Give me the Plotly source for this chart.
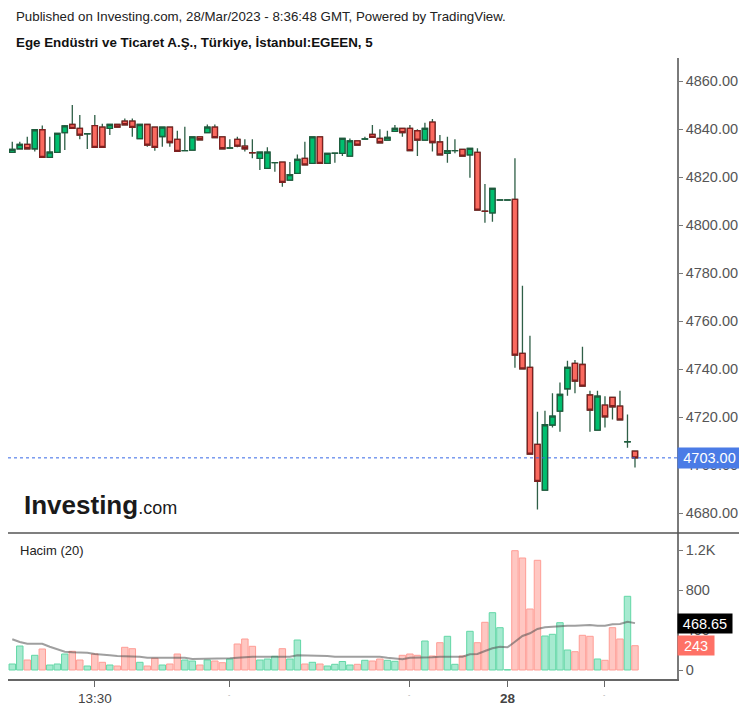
import plotly.graph_objects as go

# ---------------- data ----------------
opens = [4830.3, 4831.8, 4833.6, 4831.8, 4839.7, 4828.2, 4830.3, 4838.5, 4841.9, 4840.3,
         4838.0, 4841.4, 4840.8, 4840.3, 4841.9, 4843.3, 4843.3, 4836.0, 4841.9, 4840.8,
         4836.9, 4840.8, 4835.7, 4831.0, 4831.25, 4836.7, 4838.5, 4840.8, 4836.7, 4832.1,
         4835.7, 4832.9, 4830.15, 4827.8, 4823.6, 4826.0, 4826.25, 4818.75, 4821.5, 4827.8,
         4825.7, 4836.7, 4825.7, 4829.9, 4829.9, 4828.75, 4835.1, 4835.8, 4837.8, 4836.1,
         4835.4, 4839.0, 4840.3, 4840.3, 4839.3, 4835.4, 4842.9, 4834.6, 4829.9, 4831.0,
         4831.5, 4829.2, 4830.3, 4805.75, 4805.1, 4810.4, 4810.4, 4810.7, 4746.5, 4740.7,
         4708.6, 4689.6, 4716.7, 4722.5, 4731.8, 4742.4, 4741.9, 4729.2, 4714.6, 4725.0,
         4728.2, 4724.6, 4709.7, 4705.8]
highs = [4834.7, 4834.7, 4836.8, 4839.9, 4841.5, 4836.8, 4838.2, 4841.7, 4850.0, 4845.8,
         4838.2, 4845.8, 4842.2, 4841.9, 4842.2, 4844.4, 4844.4, 4841.9, 4841.9, 4840.8,
         4840.8, 4840.8, 4839.3, 4841.0, 4836.7, 4836.7, 4841.9, 4841.9, 4836.7, 4835.7,
         4836.8, 4835.7, 4835.7, 4830.4, 4832.4, 4826.05, 4826.25, 4826.25, 4829.4, 4834.7,
         4836.7, 4836.7, 4829.9, 4829.95, 4836.1, 4836.1, 4835.1, 4836.8, 4841.7, 4839.9,
         4839.3, 4841.7, 4840.3, 4841.7, 4839.9, 4842.6, 4844.2, 4837.5, 4836.8, 4835.7,
         4831.5, 4831.95, 4832.0, 4817.1, 4815.3, 4810.45, 4810.45, 4827.8, 4774.7, 4753.9,
         4722.2, 4722.6, 4729.9, 4734.4, 4743.5, 4743.8, 4749.3, 4731.0, 4731.0, 4728.7,
         4728.2, 4731.0, 4721.1, 4705.8]
lows = [4830.3, 4831.8, 4831.8, 4830.6, 4828.2, 4828.2, 4830.3, 4831.3, 4840.3, 4835.8,
        4831.7, 4832.4, 4832.4, 4837.5, 4840.8, 4841.8, 4836.8, 4836.0, 4832.6, 4831.0,
        4832.6, 4832.6, 4830.7, 4831.0, 4831.25, 4835.55, 4838.5, 4836.4, 4831.8, 4832.1,
        4832.4, 4830.6, 4827.8, 4822.9, 4823.6, 4822.2, 4816.0, 4818.75, 4821.5, 4825.1,
        4825.7, 4825.7, 4825.7, 4826.0, 4828.75, 4828.75, 4833.3, 4835.8, 4836.5, 4834.3,
        4835.4, 4839.0, 4836.8, 4831.0, 4828.75, 4835.4, 4830.6, 4829.2, 4826.0, 4829.9,
        4828.75, 4819.7, 4806.25, 4801.0, 4801.4, 4810.4, 4810.4, 4740.6, 4740.1, 4704.6,
        4681.5, 4689.6, 4715.7, 4713.9, 4728.9, 4729.9, 4732.9, 4713.9, 4714.6, 4715.7,
        4719.0, 4718.8, 4707.2, 4699.0]
closes = [4831.5, 4833.6, 4831.8, 4839.7, 4828.2, 4830.4, 4838.2, 4841.3, 4840.3, 4837.5,
          4838.05, 4832.4, 4832.4, 4841.9, 4840.8, 4841.8, 4840.7, 4841.9, 4833.3, 4832.4,
          4840.8, 4834.4, 4830.7, 4831.05, 4836.7, 4835.55, 4840.8, 4836.4, 4831.8, 4832.15,
          4832.9, 4831.8, 4830.1, 4830.4, 4830.4, 4826.05, 4817.8, 4821.0, 4827.4, 4825.1,
          4836.7, 4825.7, 4829.9, 4829.95, 4836.1, 4835.1, 4833.3, 4835.9, 4836.5, 4834.3,
          4836.5, 4840.3, 4838.5, 4831.0, 4835.4, 4840.3, 4834.4, 4829.2, 4831.0, 4831.05,
          4828.75, 4831.95, 4806.25, 4805.7, 4815.3, 4810.45, 4810.45, 4745.8, 4740.1, 4704.6,
          4693.2, 4716.8, 4720.4, 4729.4, 4740.7, 4735.0, 4732.9, 4722.9, 4728.7, 4720.1,
          4724.3, 4718.8, 4709.75, 4703.0]
volumes = [60, 240, 100, 147, 210, 50, 60, 160, 187, 100,
           40, 160, 77, 50, 40, 227, 213, 77, 40, 117,
           50, 60, 160, 100, 90, 50, 100, 90, 73, 110,
           260, 310, 237, 100, 110, 137, 213, 110, 300, 60,
           77, 60, 40, 57, 85, 50, 57, 97, 90, 110,
           97, 87, 147, 160, 147, 290, 140, 273, 337, 57,
           140, 387, 273, 477, 573, 423, 3, 1193, 1120, 610,
           1097, 340, 357, 473, 200, 183, 347, 337, 110, 97,
           423, 310, 737, 243]
vol_ma = [307, 280, 263, 263, 263, 233, 207, 183, 177, 173,
          173, 160, 150, 147, 140, 140, 137, 133, 123, 123,
          123, 123, 123, 123, 110, 110, 110, 110, 110, 117,
          123, 130, 133, 133, 133, 133, 133, 133, 147, 147,
          147, 147, 140, 133, 133, 133, 133, 133, 133, 133,
          123, 117, 107, 123, 123, 123, 127, 133, 133, 133,
          133, 157, 160, 190, 217, 233, 227, 283, 340, 367,
          410, 427, 433, 443, 443, 443, 450, 450, 443, 443,
          457, 460, 483, 468.65]

price_ticks = [4680, 4700, 4720, 4740, 4760, 4780, 4800, 4820, 4840, 4860]
vol_tickvals = [0, 400, 800, 1200]
vol_ticktext = ["0", "400", "800", "1.2K"]
time_tickvals = [11, 29, 53, 66, 79]
time_ticktext = ["13:30", "", "", "<b>28</b>", ""]
last_price = 4703.00
last_volume = 243
last_ma = 468.65

title_line1 = "Published on Investing.com, 28/Mar/2023 - 8:36:48 GMT, Powered by TradingView."
title_line2 = "Ege Endüstri ve Ticaret A.Ş., Türkiye, İstanbul:EGEEN, 5"

# ---------------- styling ----------------
FONT = "Arial, Liberation Sans, sans-serif"
GREEN_FILL = "#00bf6f"
GREEN_EDGE = "#1d5c3d"
RED_FILL = "#fa6a5f"
RED_EDGE = "#7f1f1f"
WICK = "#2f5f47"
VOL_GREEN = "#a6ead0"
VOL_GREEN_EDGE = "#62d7a6"
VOL_RED = "#ffc7c2"
VOL_RED_EDGE = "#ff9d95"

# the page body has an 8px margin, so the figure starts at page (8, 8)
OFF = 8
W, H = 747 - OFF, 707 - OFF
PLOT_L, PLOT_R, PLOT_T, PLOT_B = 8, 677, 58, 679   # page pixels
ML = PLOT_L - OFF
MR = 747 - PLOT_R
MT = PLOT_T - OFF
MB = 707 - PLOT_B
plot_h = PLOT_B - PLOT_T
plot_w = PLOT_R - PLOT_L
split = (PLOT_B - 533) / plot_h


def py(page_y):
    return (PLOT_B - page_y) / plot_h


def px(page_x):
    return (page_x - PLOT_L) / plot_w


x = list(range(len(opens)))
body_hi = [max(o, c) for o, c in zip(opens, closes)]
body_lo = [min(o, c) for o, c in zip(opens, closes)]
up = [c > o for o, c in zip(opens, closes)]

fig = go.Figure()

# wicks
fig.add_trace(go.Candlestick(
    x=x, open=opens, high=highs, low=lows, close=closes,
    increasing=dict(line=dict(color=WICK, width=1.3), fillcolor=GREEN_FILL),
    decreasing=dict(line=dict(color=WICK, width=1.3), fillcolor=RED_FILL),
    hoverinfo="skip", showlegend=False, xaxis="x", yaxis="y"))
# bodies
fig.add_trace(go.Candlestick(
    x=x, open=opens, high=body_hi, low=body_lo, close=closes,
    increasing=dict(line=dict(color=GREEN_EDGE, width=1.3), fillcolor=GREEN_FILL),
    decreasing=dict(line=dict(color=RED_EDGE, width=1.3), fillcolor=RED_FILL),
    hoverinfo="skip", showlegend=False, xaxis="x", yaxis="y"))

# volume
fig.add_trace(go.Bar(
    x=x, y=volumes, width=0.86,
    marker=dict(color=[VOL_GREEN if u else VOL_RED for u in up],
                line=dict(color=[VOL_GREEN_EDGE if u else VOL_RED_EDGE for u in up], width=1)),
    hoverinfo="skip", showlegend=False, xaxis="x", yaxis="y2"))
fig.add_trace(go.Scatter(
    x=x, y=vol_ma, mode="lines", line=dict(color="rgba(80,80,80,0.55)", width=2),
    hoverinfo="skip", showlegend=False, xaxis="x", yaxis="y2"))

axis_common = dict(showgrid=False, zeroline=False, showline=True, linecolor="#7a7a7a",
                   linewidth=1.5, ticks="outside", ticklen=4, tickcolor="#7a7a7a",
                   tickfont=dict(family=FONT, size=14.5, color="#555"), fixedrange=True,
                   automargin=False)

fig.update_layout(
    width=W, height=H,
    margin=dict(l=ML, r=MR, t=MT, b=MB, autoexpand=False),
    paper_bgcolor="white", plot_bgcolor="white",
    boxgap=0.3, boxgroupgap=0,
    bargap=0.1,
    font=dict(family=FONT),
    xaxis=dict(domain=[0, 1], range=[-0.57, 88.6], anchor="y2",
               tickmode="array", tickvals=time_tickvals, ticktext=time_ticktext,
               showgrid=False, zeroline=False, showline=True, linecolor="#666", linewidth=1.5,
               ticks="outside", ticklen=6, tickcolor="#666",
               tickfont=dict(family=FONT, size=13.5, color="#444"),
               rangeslider=dict(visible=False), fixedrange=True, automargin=False),
    yaxis=dict(domain=[split, 1], range=[4671.7, 4869.6], side="right", anchor="x",
               tickmode="array", tickvals=price_ticks, tickformat=".2f", **axis_common),
    yaxis2=dict(domain=[0, split], range=[-90, 1370], side="right", anchor="x",
                tickmode="array", tickvals=vol_tickvals, ticktext=vol_ticktext, **axis_common),
)

shapes = [
    # pane separator
    dict(type="line", xref="paper", yref="paper", x0=0, x1=px(740),
         y0=split, y1=split, line=dict(color="#555", width=1.5)),
    # last price line
    dict(type="line", xref="paper", yref="y", x0=0, x1=1, y0=last_price, y1=last_price,
         line=dict(color="#3567e6", width=1, dash="dot")),
]
fig.update_layout(shapes=shapes)

ann = []
ann.append(dict(text=title_line1, xref="paper", yref="paper", x=px(14),
                y=py(17), xanchor="left", yanchor="middle", showarrow=False,
                font=dict(family=FONT, size=13.3, color="#222")))
ann.append(dict(text="<b>" + title_line2 + "</b>", xref="paper", yref="paper",
                x=px(14), y=py(42), xanchor="left", yanchor="middle",
                showarrow=False, font=dict(family=FONT, size=13.35, color="#111")))
ann.append(dict(text="Hacim (20)", xref="paper", yref="paper", x=px(18),
                y=py(550), xanchor="left", yanchor="middle", showarrow=False,
                font=dict(family=FONT, size=13, color="#222")))
ann.append(dict(text="<b>Investing</b><span style='font-size:18px;font-weight:normal'>.com</span>",
                xref="paper", yref="paper", x=px(22), y=py(505),
                xanchor="left", yanchor="middle", showarrow=False,
                font=dict(family=FONT, size=26, color="#1a1a1a")))
# last value labels
ann.append(dict(text=f"{last_price:.2f}", xref="paper", yref="y", x=1, y=last_price,
                xanchor="left", yanchor="middle", showarrow=False, bgcolor="#4a7be6",
                width=61, height=18, borderpad=1, align="center",
                font=dict(family=FONT, size=14.5, color="white")))
ann.append(dict(text=f"{last_ma:.2f}", xref="paper", yref="y2", x=1, y=last_ma,
                xanchor="left", yanchor="middle", showarrow=False, bgcolor="#000",
                width=52, height=17, borderpad=1, align="center",
                font=dict(family=FONT, size=14.5, color="white")))
ann.append(dict(text=f"{last_volume}", xref="paper", yref="y2", x=1, y=last_volume,
                xanchor="left", yanchor="middle", showarrow=False, bgcolor="#fe7166",
                width=34, height=17, borderpad=1, align="center",
                font=dict(family=FONT, size=14.5, color="white")))
# truncated time labels under unlabeled ticks
for tv in [29, 53, 79]:
    ann.append(dict(text="-", xref="x", yref="paper", x=tv, y=py(694),
                    xanchor="center", yanchor="middle", showarrow=False,
                    font=dict(family=FONT, size=7, color="#aaa")))
fig.update_layout(annotations=ann)

fig.write_html("out.html")
